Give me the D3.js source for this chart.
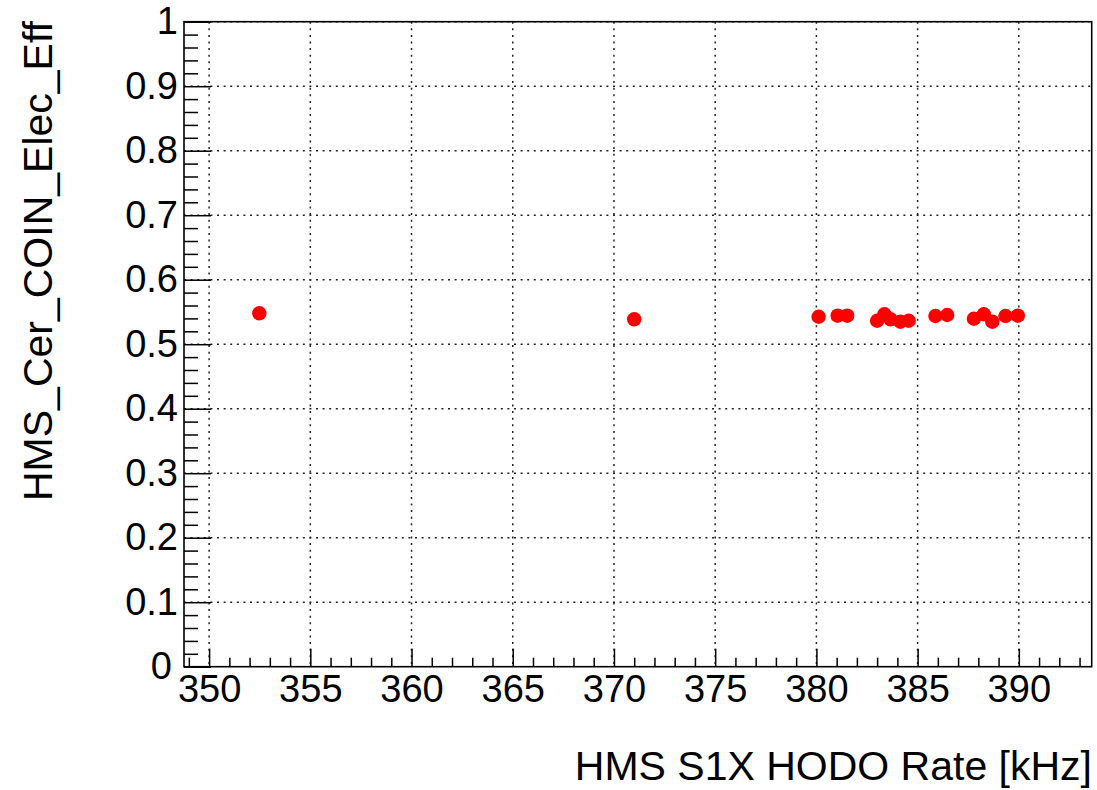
<!DOCTYPE html>
<html>
<head>
<meta charset="utf-8">
<script src="https://cdn.jsdelivr.net/npm/d3@7"></script>
<style>
  html, body { margin: 0; padding: 0; background: #fff; }
  svg { display: block; }
  text { font-family: "Liberation Sans", Arial, Helvetica, sans-serif; fill: #000; }
</style>
</head>
<body>
<svg id="chart" width="1097" height="790"></svg>
<script>
// ---- Data ----
const rateKHz = [352.48, 371.0, 380.11, 381.05, 381.52, 383.00, 383.36, 383.66, 384.15, 384.56,
                 385.88, 386.46, 387.78, 388.27, 388.69, 389.34, 389.95];
const cerEff  = [0.5479, 0.5386, 0.5426, 0.5442, 0.5442, 0.5364, 0.5464, 0.5386, 0.5349, 0.5364,
                 0.5437, 0.5453, 0.5395, 0.5464, 0.5349, 0.5437, 0.5442];
const xTickValues = [350, 355, 360, 365, 370, 375, 380, 385, 390];
const yTickValues = [0, 0.1, 0.2, 0.3, 0.4, 0.5, 0.6, 0.7, 0.8, 0.9, 1];
const xDomain = [348.76, 393.6];
const yDomain = [0, 1];
const xTitle = "HMS S1X HODO Rate [kHz]";
const yTitle = "HMS_Cer_COIN_Elec_Eff";

// ---- Layout ----
const frame = { left: 184, right: 1091.7, top: 21.7, bottom: 666.7 };
const svg = d3.select("#chart");

const x = d3.scaleLinear().domain(xDomain).range([frame.left, frame.right]);
const y = d3.scaleLinear().domain(yDomain).range([frame.bottom, frame.top]);

// Grid (dotted)
const grid = svg.append("g").attr("class", "grid");
grid.selectAll("line.gx").data(xTickValues).enter().append("line")
  .attr("x1", d => x(d)).attr("x2", d => x(d))
  .attr("y1", frame.top).attr("y2", frame.bottom)
  .attr("stroke", "#222").attr("stroke-width", 1.5).attr("stroke-dasharray", "2,4.6");
grid.selectAll("line.gy").data(yTickValues.filter(d => d > 0)).enter().append("line")
  .attr("x1", frame.left).attr("x2", frame.right)
  .attr("y1", d => y(d)).attr("y2", d => y(d))
  .attr("stroke", "#222").attr("stroke-width", 1.5).attr("stroke-dasharray", "2,4.6");

// Minor ticks
const xMinor = d3.range(349, 394, 1).filter(v => v >= xDomain[0] && v <= xDomain[1] && !xTickValues.includes(v));
const yMinor = d3.range(0, 1.0001, 0.02).map(v => +v.toFixed(2)).filter(v => !yTickValues.some(t => Math.abs(t - v) < 1e-6));

const xMinorAxis = d3.axisBottom(x).tickValues(xMinor).tickSizeInner(-9).tickSizeOuter(0).tickFormat("");
const yMinorAxis = d3.axisLeft(y).tickValues(yMinor).tickSizeInner(-14).tickSizeOuter(0).tickFormat("");
svg.append("g").attr("transform", `translate(0,${frame.bottom})`).call(xMinorAxis)
  .call(g => g.select(".domain").remove())
  .selectAll("line").attr("stroke", "#000").attr("stroke-width", 1.5);
svg.append("g").attr("transform", `translate(${frame.left},0)`).call(yMinorAxis)
  .call(g => g.select(".domain").remove())
  .selectAll("line").attr("stroke", "#000").attr("stroke-width", 1.5);

// Major axes
const xAxis = d3.axisBottom(x).tickValues(xTickValues).tickSizeInner(-18).tickSizeOuter(0)
  .tickPadding(8).tickFormat(d3.format("d"));
const yAxis = d3.axisLeft(y).tickValues(yTickValues).tickSizeInner(-27).tickSizeOuter(0)
  .tickPadding(6).tickFormat(d => d === 0 ? "0" : d === 1 ? "1" : d3.format(".1f")(d));

const gx = svg.append("g").attr("transform", `translate(0,${frame.bottom})`).call(xAxis);
gx.select(".domain").remove();
gx.selectAll("line").attr("stroke", "#000").attr("stroke-width", 1.5);
gx.selectAll("text").attr("font-size", 38).attr("font-family", "Liberation Sans, Arial, sans-serif").attr("fill", "#000");

const gy = svg.append("g").attr("transform", `translate(${frame.left},0)`).call(yAxis);
gy.select(".domain").remove();
gy.selectAll("line").attr("stroke", "#000").attr("stroke-width", 1.5);
gy.selectAll("text").attr("font-size", 38).attr("font-family", "Liberation Sans, Arial, sans-serif").attr("fill", "#000")
  .attr("dx", d => d === 0 ? -6 : 0);

// Frame
svg.append("rect")
  .attr("x", frame.left).attr("y", frame.top)
  .attr("width", frame.right - frame.left).attr("height", frame.bottom - frame.top)
  .attr("fill", "none").attr("stroke", "#000").attr("stroke-width", 1.6);

// Points
const pts = rateKHz.map((r, i) => ({ r, e: cerEff[i] }));
svg.append("g").selectAll("circle").data(pts).enter().append("circle")
  .attr("cx", d => x(d.r)).attr("cy", d => y(d.e)).attr("r", 7.2)
  .attr("fill", "#ff0000");

// Titles
svg.append("text")
  .attr("x", 1092).attr("y", 780)
  .attr("text-anchor", "end").attr("font-size", 41)
  .text(xTitle);
svg.append("text")
  .attr("transform", "translate(52,21) rotate(-90)")
  .attr("text-anchor", "end").attr("font-size", 41)
  .text(yTitle);
</script>
</body>
</html>
